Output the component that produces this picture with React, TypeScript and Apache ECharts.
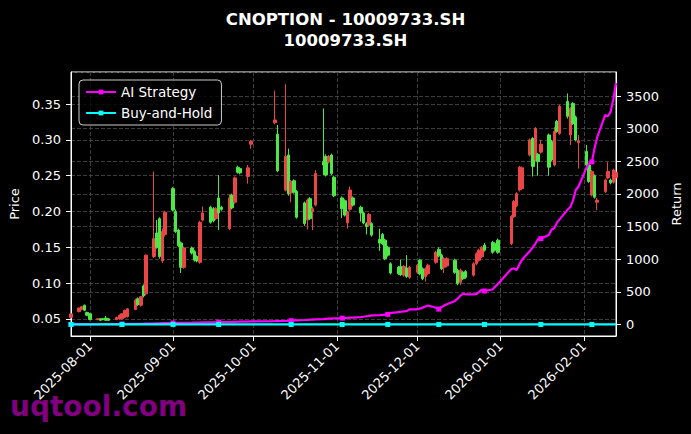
import React, { useEffect, useRef } from 'react';
import * as echarts from 'echarts';

// Trading days (month -> day numbers)
const TRADING_DAYS: [string, number[]][] = [
  ['2025-07', [25, 28, 29, 30, 31]],
  ['2025-08', [1, 4, 5, 6, 7, 8, 11, 12, 13, 14, 15, 18, 19, 20, 21, 22, 25, 26, 27, 28, 29]],
  ['2025-09', [1, 2, 3, 4, 5, 8, 9, 10, 11, 12, 15, 16, 17, 18, 19, 22, 23, 24, 25, 26, 29, 30]],
  ['2025-10', [9, 10, 13, 14, 15, 16, 17, 20, 21, 22, 23, 24, 27, 28, 29, 30, 31]],
  ['2025-11', [3, 4, 5, 6, 7, 10, 11, 12, 13, 14, 17, 18, 19, 20, 21, 24, 25, 26, 27, 28]],
  ['2025-12', [1, 2, 3, 4, 5, 8, 9, 10, 11, 12, 15, 16, 17, 18, 19, 22, 23, 24, 25, 26, 29, 30, 31]],
  ['2026-01', [5, 6, 7, 8, 9, 12, 13, 14, 15, 16, 19, 20, 21, 22, 23, 26, 27, 28, 29, 30]],
  ['2026-02', [2, 3, 4, 5, 6, 9, 10, 11, 12, 13]],
];

const X_TICKS = ['2025-08-01', '2025-09-01', '2025-10-01', '2025-11-01', '2025-12-01', '2026-01-01', '2026-02-01'];
const X_MIN = '2025-07-25';
const X_MAX = '2026-02-13';

const OPEN = [
  0.052, 0.060, 0.063, 0.069, 0.059,
  0.057, 0.049, 0.050, 0.050, 0.051, 0.050, 0.049, 0.050, 0.050, 0.052, 0.053, 0.063, 0.078, 0.069, 0.096, 0.085, 0.137, 0.170, 0.190, 0.131, 0.168,
  0.232, 0.200, 0.174, 0.156, 0.122, 0.149, 0.144, 0.137, 0.129, 0.188, 0.206, 0.204, 0.190, 0.219, 0.206, 0.176, 0.223, 0.213, 0.262, 0.260, 0.249, 0.294,
  0.324, 0.308, 0.230, 0.279, 0.226, 0.243, 0.228, 0.212, 0.188, 0.218, 0.200, 0.209, 0.270, 0.277, 0.269, 0.279, 0.248,
  0.219, 0.215, 0.184, 0.203, 0.219, 0.206, 0.198, 0.183, 0.181, 0.183, 0.161, 0.168, 0.160, 0.150, 0.127, 0.122, 0.123, 0.111, 0.121, 0.108,
  0.115, 0.132, 0.120, 0.109, 0.113, 0.129, 0.147, 0.139, 0.122, 0.124, 0.132, 0.118, 0.101, 0.115, 0.116, 0.111, 0.127, 0.132, 0.137, 0.153, 0.157, 0.155, 0.160,
  0.155, 0.193, 0.208, 0.230, 0.232, 0.279, 0.302, 0.272, 0.280, 0.283, 0.307, 0.298, 0.265, 0.326, 0.309, 0.354, 0.307, 0.351, 0.332, 0.296,
  0.284, 0.265, 0.223, 0.250, 0.213, 0.228, 0.247, 0.244, 0.241, 0.247,
];

const CLOSE = [
  0.057, 0.065, 0.067, 0.062, 0.055,
  0.049, 0.050, 0.048, 0.049, 0.048, 0.048, 0.052, 0.055, 0.057, 0.062, 0.064, 0.076, 0.070, 0.081, 0.082, 0.139, 0.162, 0.150, 0.137, 0.172, 0.199,
  0.202, 0.172, 0.152, 0.122, 0.149, 0.142, 0.132, 0.131, 0.185, 0.198, 0.185, 0.187, 0.204, 0.198, 0.203, 0.219, 0.205, 0.247, 0.255, 0.254, 0.261, 0.298,
  0.328, 0.257, 0.277, 0.225, 0.242, 0.227, 0.192, 0.183, 0.216, 0.190, 0.204, 0.253, 0.265, 0.251, 0.277, 0.253, 0.222,
  0.204, 0.195, 0.199, 0.230, 0.209, 0.198, 0.184, 0.179, 0.196, 0.167, 0.156, 0.155, 0.134, 0.139, 0.114, 0.113, 0.112, 0.123, 0.109, 0.122,
  0.125, 0.113, 0.106, 0.120, 0.125, 0.143, 0.138, 0.120, 0.134, 0.134, 0.115, 0.099, 0.118, 0.106, 0.108, 0.127, 0.141, 0.146, 0.150, 0.146, 0.143, 0.146, 0.143,
  0.193, 0.214, 0.225, 0.262, 0.261, 0.300, 0.263, 0.316, 0.270, 0.294, 0.262, 0.272, 0.312, 0.312, 0.347, 0.333, 0.344, 0.323, 0.300, 0.299,
  0.265, 0.242, 0.256, 0.220, 0.216, 0.244, 0.256, 0.240, 0.258, 0.255,
];

const LOW = [
  0.050, 0.059, 0.062, 0.061, 0.054,
  0.048, 0.048, 0.047, 0.048, 0.047, 0.047, 0.048, 0.049, 0.049, 0.051, 0.052, 0.062, 0.068, 0.067, 0.080, 0.083, 0.135, 0.148, 0.134, 0.128, 0.165,
  0.200, 0.170, 0.150, 0.114, 0.120, 0.140, 0.130, 0.129, 0.127, 0.186, 0.183, 0.185, 0.188, 0.174, 0.201, 0.174, 0.203, 0.211, 0.253, 0.252, 0.239, 0.288,
  0.322, 0.255, 0.228, 0.222, 0.213, 0.225, 0.190, 0.180, 0.175, 0.188, 0.174, 0.207, 0.251, 0.249, 0.267, 0.251, 0.220,
  0.191, 0.193, 0.176, 0.201, 0.207, 0.186, 0.182, 0.168, 0.179, 0.165, 0.145, 0.153, 0.132, 0.137, 0.112, 0.111, 0.110, 0.109, 0.107, 0.106,
  0.113, 0.111, 0.104, 0.102, 0.111, 0.127, 0.136, 0.118, 0.114, 0.122, 0.113, 0.097, 0.097, 0.104, 0.106, 0.109, 0.125, 0.130, 0.135, 0.144, 0.141, 0.144, 0.141,
  0.153, 0.191, 0.206, 0.228, 0.230, 0.277, 0.249, 0.270, 0.250, 0.281, 0.250, 0.270, 0.263, 0.310, 0.307, 0.330, 0.293, 0.321, 0.298, 0.260,
  0.263, 0.240, 0.221, 0.218, 0.202, 0.226, 0.245, 0.238, 0.239, 0.245,
];

const HIGH = [
  0.058, 0.066, 0.068, 0.070, 0.060,
  0.058, 0.051, 0.051, 0.051, 0.054, 0.051, 0.053, 0.056, 0.058, 0.063, 0.065, 0.078, 0.080, 0.082, 0.098, 0.140, 0.256, 0.188, 0.192, 0.176, 0.201,
  0.234, 0.203, 0.176, 0.158, 0.151, 0.151, 0.146, 0.139, 0.187, 0.207, 0.208, 0.206, 0.206, 0.251, 0.208, 0.224, 0.225, 0.249, 0.264, 0.262, 0.265, 0.300,
  0.369, 0.321, 0.378, 0.288, 0.244, 0.245, 0.230, 0.214, 0.218, 0.220, 0.207, 0.258, 0.344, 0.280, 0.279, 0.281, 0.250,
  0.221, 0.217, 0.201, 0.235, 0.221, 0.208, 0.200, 0.185, 0.198, 0.185, 0.176, 0.170, 0.162, 0.152, 0.129, 0.124, 0.133, 0.125, 0.139, 0.124,
  0.127, 0.134, 0.122, 0.122, 0.127, 0.145, 0.150, 0.141, 0.136, 0.136, 0.134, 0.120, 0.120, 0.117, 0.118, 0.129, 0.143, 0.148, 0.152, 0.156, 0.159, 0.157, 0.162,
  0.195, 0.216, 0.227, 0.264, 0.263, 0.302, 0.304, 0.318, 0.282, 0.300, 0.309, 0.300, 0.318, 0.328, 0.349, 0.365, 0.346, 0.353, 0.334, 0.307,
  0.293, 0.267, 0.258, 0.252, 0.219, 0.246, 0.269, 0.246, 0.260, 0.257,
];

const AI_STRATEGY = [
  0, 0, 1, 1, 2,
  2, 3, 3, 4, 4, 5, 5, 6, 6, 7, 8, 9, 10, 11, 12, 14, 16, 17, 18, 20, 21,
  22, 23, 24, 25, 26, 27, 28, 29, 30, 31, 32, 33, 34, 35, 36, 37, 38, 40, 41, 42, 44, 46,
  50, 52, 55, 57, 58, 62, 63, 68, 70, 73, 75, 78, 82, 85, 88, 90, 92,
  97, 99, 101, 104, 106, 112, 118, 125, 132, 138, 142, 148, 150, 155, 175, 190, 195, 200, 205, 230,
  232, 245, 258, 275, 291, 255, 235, 266, 290, 310, 360, 395, 440, 470, 462, 462, 465, 500, 532, 512, 535, 580, 620,
  850, 860, 835, 920, 990, 1130, 1180, 1240, 1310, 1315, 1370, 1455, 1475, 1560, 1610, 1760, 1800, 1900, 2060, 2110,
  2400, 2470, 2490, 2700, 2870, 3210, 3190, 3260, 3450, 3700,
];

const BUY_AND_HOLD = [
  0, 0, 0, 0, 0,
  0, 0, 0, 0, 0, 0, 0, 0, 0, 0, 0, 0, 0, 0, 0, 0, 0, 0, 0, 0, 0,
  0, 0, 0, 0, 0, 0, 0, 0, 0, 0, 0, 0, 0, 0, 0, 0, 0, 0, 0, 0, 0, 0,
  0, 0, 0, 0, 0, 0, 0, 0, 0, 0, 0, 0, 0, 0, 0, 0, 0,
  0, 0, 0, 0, 0, 0, 0, 0, 0, 0, 0, 0, 0, 0, 0, 0, 0, 0, 0, 0,
  0, 0, 0, 0, 0, 0, 0, 0, 0, 0, 0, 0, 0, 0, 0, 0, 0, 0, 0, 0, 0, 0, 0,
  0, 0, 0, 0, 0, 0, 0, 0, 0, 0, 0, 0, 0, 0, 0, 0, 0, 0, 0, 0,
  0, 0, 0, 0, 0, 0, 0, 0, 0, 0,
];

const MARK_EVERY = 13;
const FONT = '"DejaVu Sans", sans-serif';
const RED = '#ea4646';
const GREEN = '#4ce846';
const MAGENTA = '#ff00ff';
const CYAN = '#00ffff';

function ts(s: string): number {
  const [y, m, d] = s.split('-').map(Number);
  return Date.UTC(y, m - 1, d);
}
function pad(n: number) {
  return n < 10 ? '0' + n : '' + n;
}
function fmtDate(v: number) {
  const d = new Date(v);
  return `${d.getUTCFullYear()}-${pad(d.getUTCMonth() + 1)}-${pad(d.getUTCDate())}`;
}

const DATES: number[] = [];
TRADING_DAYS.forEach(([ym, days]) => days.forEach((d) => DATES.push(ts(`${ym}-${pad(d)}`))));

function buildOption() {
  const candles = DATES.map((t, i) => [t, OPEN[i], CLOSE[i], LOW[i], HIGH[i]]);
  const lineData = (vals: number[]) =>
    DATES.map((t, i) => ({ value: [t, vals[i]], symbol: i % MARK_EVERY === 0 ? 'rect' : 'none' }));
  const tickVals = X_TICKS.map(ts);
  const axisText = { color: '#ffffff', fontSize: 13, fontFamily: FONT };
  const gridLine = { show: true, lineStyle: { color: '#4d4d4d', type: [4, 2] as any, width: 0.8 } };

  return {
    animation: false,
    backgroundColor: '#000000',
    title: {
      text: 'CNOPTION - 10009733.SH\n10009733.SH',
      left: 'center',
      top: 4,
      textStyle: { color: '#ffffff', fontSize: 16.5, fontWeight: 'bold', fontFamily: FONT, lineHeight: 21 },
    },
    legend: {
      data: ['AI Strategy', 'Buy-and-Hold'],
      orient: 'vertical',
      left: 79,
      top: 80,
      itemWidth: 30,
      itemHeight: 6,
      itemGap: 7,
      padding: [5, 9, 5, 6],
      backgroundColor: 'rgba(0,0,0,0.8)',
      borderColor: '#cccccc',
      borderWidth: 1,
      borderRadius: 4,
      textStyle: { color: '#ffffff', fontSize: 13.5, fontFamily: FONT },
    },
    grid: { left: 71, right: 74, top: 72, bottom: 98, show: true, borderColor: '#ffffff', borderWidth: 1 },
    xAxis: {
      type: 'value',
      min: ts(X_MIN),
      max: ts(X_MAX),
      axisLine: { show: true, onZero: false, lineStyle: { color: '#ffffff' } },
      axisTick: { show: true, length: 5, lineStyle: { color: '#ffffff' }, customValues: tickVals },
      axisLabel: { ...axisText, customValues: tickVals, rotate: 45, margin: 8, formatter: (v: number) => fmtDate(v) },
      splitLine: gridLine,
    },
    yAxis: [
      {
        type: 'value',
        position: 'left',
        min: 0.026,
        max: 0.395,
        splitNumber: 7,
        name: 'Price',
        nameLocation: 'middle',
        nameGap: 48,
        nameRotate: 90,
        nameTextStyle: axisText,
        axisLine: { show: true, lineStyle: { color: '#ffffff' } },
        axisTick: { show: true, length: 5, lineStyle: { color: '#ffffff' } },
        axisLabel: { ...axisText, margin: 10, showMinLabel: false, showMaxLabel: false, formatter: (v: number) => v.toFixed(2) },
        splitLine: gridLine,
      },
      {
        type: 'value',
        position: 'right',
        min: -177,
        max: 3868,
        splitNumber: 8,
        name: 'Return',
        nameLocation: 'middle',
        nameGap: 51,
        nameRotate: 90,
        nameTextStyle: axisText,
        axisLine: { show: true, lineStyle: { color: '#ffffff' } },
        axisTick: { show: true, length: 5, lineStyle: { color: '#ffffff' } },
        axisLabel: { ...axisText, margin: 10, showMinLabel: false, showMaxLabel: false, formatter: (v: number) => String(Math.round(v)) },
        splitLine: gridLine,
      },
    ],
    series: [
      {
        type: 'candlestick',
        name: 'Price',
        xAxisIndex: 0,
        yAxisIndex: 0,
        data: candles,
        encode: { x: 0, y: [1, 2, 3, 4] },
        barWidth: 3,
        itemStyle: { color: RED, color0: GREEN, borderColor: RED, borderColor0: GREEN, borderWidth: 1 },
        z: 2,
      },
      {
        type: 'line',
        name: 'AI Strategy',
        xAxisIndex: 0,
        yAxisIndex: 1,
        data: lineData(AI_STRATEGY),
        symbol: 'rect',
        symbolSize: 5,
        showSymbol: true,
        lineStyle: { color: MAGENTA, width: 2.2 },
        itemStyle: { color: MAGENTA },
        z: 3,
      },
      {
        type: 'line',
        name: 'Buy-and-Hold',
        xAxisIndex: 0,
        yAxisIndex: 1,
        data: lineData(BUY_AND_HOLD),
        symbol: 'rect',
        symbolSize: 5,
        showSymbol: true,
        lineStyle: { color: CYAN, width: 2.2 },
        itemStyle: { color: CYAN },
        z: 4,
      },
    ],
    graphic: [
      {
        type: 'text',
        left: 10,
        top: 392,
        z: 100,
        style: { text: 'uqtool.com', fill: '#800080', font: `bold 28px ${FONT}` },
      },
    ],
  };
}

export default function App() {
  const ref = useRef<HTMLDivElement>(null);
  useEffect(() => {
    document.body.style.margin = '0';
    document.body.style.background = '#000';
    const chart = echarts.init(ref.current!, undefined, { renderer: 'svg' });
    chart.setOption(buildOption() as any);
    return () => chart.dispose();
  }, []);
  return <div ref={ref} style={{ width: 691, height: 434, background: '#000' }} />;
}
